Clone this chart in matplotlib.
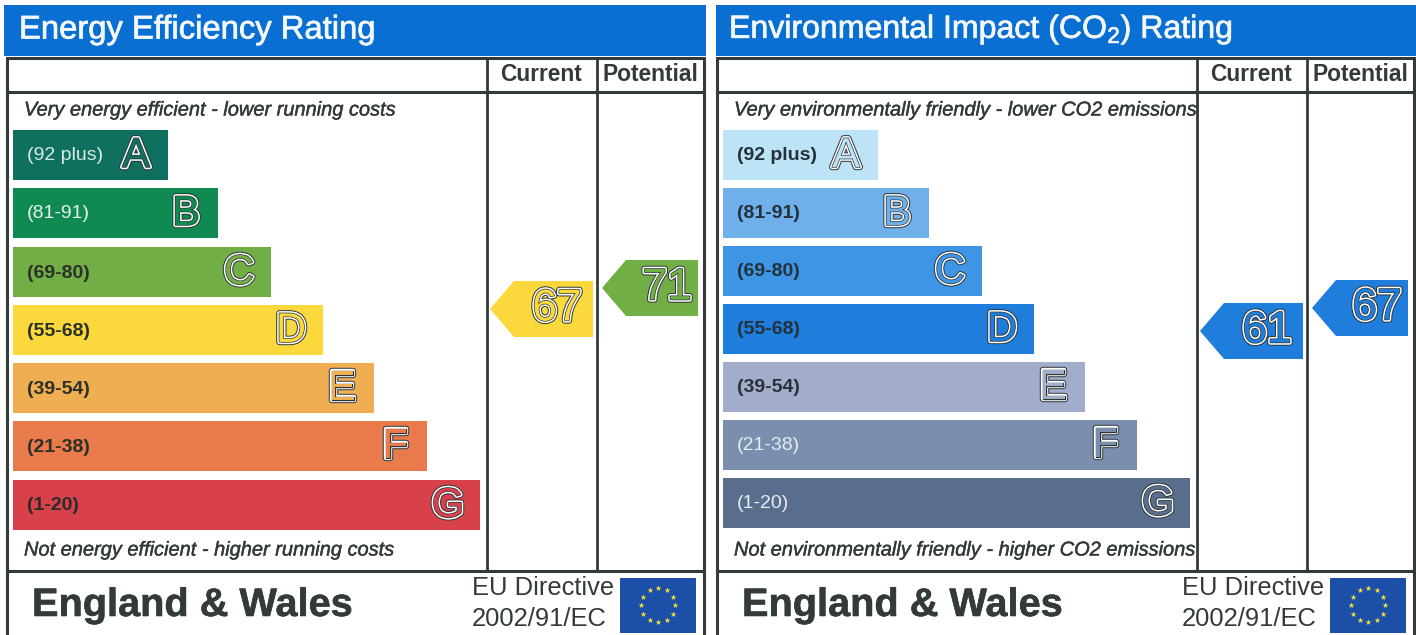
import numpy as np
import matplotlib
matplotlib.use("Agg")
import matplotlib.pyplot as plt
import matplotlib.patheffects as pe
from matplotlib.patches import Polygon, Rectangle

plt.rcParams['font.family'] = ['Liberation Sans', 'DejaVu Sans']
plt.rcParams['mathtext.fontset'] = 'custom'
plt.rcParams['mathtext.rm'] = 'Liberation Sans'
plt.rcParams['mathtext.default'] = 'regular'

# shared by both panels
letters = ['A', 'B', 'C', 'D', 'E', 'F', 'G']
ranges = ['(92 plus)', '(81-91)', '(69-80)', '(55-68)', '(39-54)', '(21-38)', '(1-20)']
band_floors = [92, 81, 69, 55, 39, 21, 1]

# energy panel
energy_lengths = [155, 205, 258, 310, 361, 414, 467]
energy_tops = [130, 188, 247, 305, 363, 421, 480]
energy_colors = ['#10705f', '#0f8b52', '#72ae46', '#fbd93c', '#efae52', '#e87a4b', '#d8404a']
energy_range_colors = ['#d8ebe4', '#e4f2ea', '#2b3028', '#2b3028', '#2b3028', '#2b3028', '#2b2b2b']
energy_current = 67
energy_potential = 71

# co2 panel
co2_lengths = [155, 206, 259, 311, 362, 414, 467]
co2_tops = [130, 188, 246, 304, 362, 420, 478]
co2_colors = ['#bde3f6', '#70b0ea', '#3e95e5', '#1f7edb', '#a2adcb', '#7a8fae', '#596d8d']
co2_range_colors = ['#24303a', '#24303a', '#24303a', '#24303a', '#2b3038', '#e6ecf2', '#e6ecf2']
co2_current = 61
co2_potential = 67

DARK = '#333a3a'
BLUE = '#0a6fd3'

fig = plt.figure(figsize=(14.16, 6.35), dpi=100)
ax = fig.add_axes([0, 0, 1, 1])
ax.set_xlim(0, 1416)
ax.set_ylim(635, 0)
ax.axis('off')


def band(score):
    for letter, low in zip(letters, band_floors):
        if score >= low:
            return letter
    return 'G'


def outlined(x, y, s, size, fill):
    t = ax.text(x, y, s, fontsize=size, color=fill, ha='center', va='center', zorder=6)
    t.set_path_effects([pe.Stroke(linewidth=4.6, foreground='#2c3436'),
                        pe.Stroke(linewidth=3.2, foreground='white'),
                        pe.Stroke(linewidth=1.0, foreground='#2c3436'),
                        pe.Normal()])
    return t


def thick(t, width):
    # scanned text is heavier than the plain font weight
    t.set_path_effects([pe.withStroke(linewidth=width, foreground=t.get_color())])
    return t


def draw_arrow(left, right, top, color, value, text_inset):
    bottom = top + 56
    mid = top + 28
    ax.add_patch(Polygon([(left, mid), (left + 24, top), (right, top), (right, bottom), (left + 24, bottom)],
                         closed=True, facecolor=color, edgecolor='none', zorder=4))
    outlined(right - text_inset, mid, str(value), 32, color)


def draw_flag(x, y):
    ax.add_patch(Rectangle((x, y), 76, 55, facecolor='#1c4fa8', edgecolor='none', zorder=3))
    angles = np.arange(12) * np.pi / 6
    ax.scatter(x + 38 + 17 * np.cos(angles), y + 27 + 17 * np.sin(angles), marker='*', s=20,
               color='#f3e23a', linewidths=0, zorder=4)


def draw_panel(x0, head_left, title, title_size, top_note, bottom_note, lengths, tops, colors, range_colors,
               current, potential, current_top, potential_top):
    right = x0 + 700
    col1 = x0 + 482
    col2 = x0 + 592

    ax.add_patch(Rectangle((head_left, 5), right + 1 - head_left, 51, facecolor=BLUE, edgecolor='none'))
    thick(ax.text(x0 + 14, 30, title, fontsize=title_size, color='#f4f8fc', ha='left', va='center'), 0.5)

    ax.plot([x0 + 2, x0 + 2, right - 1, right - 1], [635, 58, 58, 635], color=DARK, lw=2.2, solid_joinstyle='miter')
    ax.plot([x0 + 2, right - 1], [92, 92], color=DARK, lw=2.2)
    ax.plot([x0 + 2, right - 1], [570.5, 570.5], color=DARK, lw=2.2)
    ax.plot([col1, col1], [58, 570], color=DARK, lw=2.0)
    ax.plot([col2, col2], [58, 570], color=DARK, lw=2.0)

    ax.text((col1 + col2) / 2 - 1, 74.5, 'Current', fontsize=16.4, fontweight='bold', color=DARK, ha='center', va='center')
    ax.text((col2 + right) / 2 - 1, 74.5, 'Potential', fontsize=16.4, fontweight='bold', color=DARK, ha='center', va='center')

    thick(ax.text(x0 + 19, 110, top_note, fontsize=14.4, fontstyle='italic', color=DARK, ha='left', va='center'), 0.3)
    thick(ax.text(x0 + 19, 550, bottom_note, fontsize=14.4, fontstyle='italic', color=DARK, ha='left', va='center'), 0.3)

    ax.barh(tops, lengths, height=50, left=x0 + 8, align='edge', color=colors, edgecolor='none', zorder=2)
    for i, letter in enumerate(letters):
        ax.text(x0 + 22, tops[i] + 26, ranges[i], fontsize=14, color=range_colors[i],
                fontweight='bold' if range_colors[i].startswith('#2') else 'normal', ha='left', va='center', zorder=3)
        outlined(x0 + 8 + lengths[i] - 32, tops[i] + 26, letter, 30, colors[i])

    draw_arrow(col1 + 3, col2 - 4, current_top, colors[letters.index(band(current))], current, 36)
    draw_arrow(col2 + 5, right - 7, potential_top, colors[letters.index(band(potential))], potential, 31)

    thick(ax.text(x0 + 27, 605, 'England & Wales', fontsize=28.6, fontweight='bold', color=DARK, ha='left', va='center'), 0.4)
    ax.text(x0 + 467, 588, 'EU Directive', fontsize=18.4, color=DARK, ha='left', va='center')
    ax.text(x0 + 467, 619, '2002/91/EC', fontsize=18.4, color=DARK, ha='left', va='center')
    draw_flag(x0 + 615, 578)


draw_panel(5, 4, 'Energy Efficiency Rating', 23.6,
           'Very energy efficient - lower running costs',
           'Not energy efficient - higher running costs',
           energy_lengths, energy_tops, energy_colors, energy_range_colors,
           energy_current, energy_potential, 281, 260)

draw_panel(715, 716, 'Environmental Impact (CO$_2$) Rating', 23.1,
           'Very environmentally friendly - lower CO2 emissions',
           'Not environmentally friendly - higher CO2 emissions',
           co2_lengths, co2_tops, co2_colors, co2_range_colors,
           co2_current, co2_potential, 303, 280)

fig.savefig('out.png', dpi=100)
